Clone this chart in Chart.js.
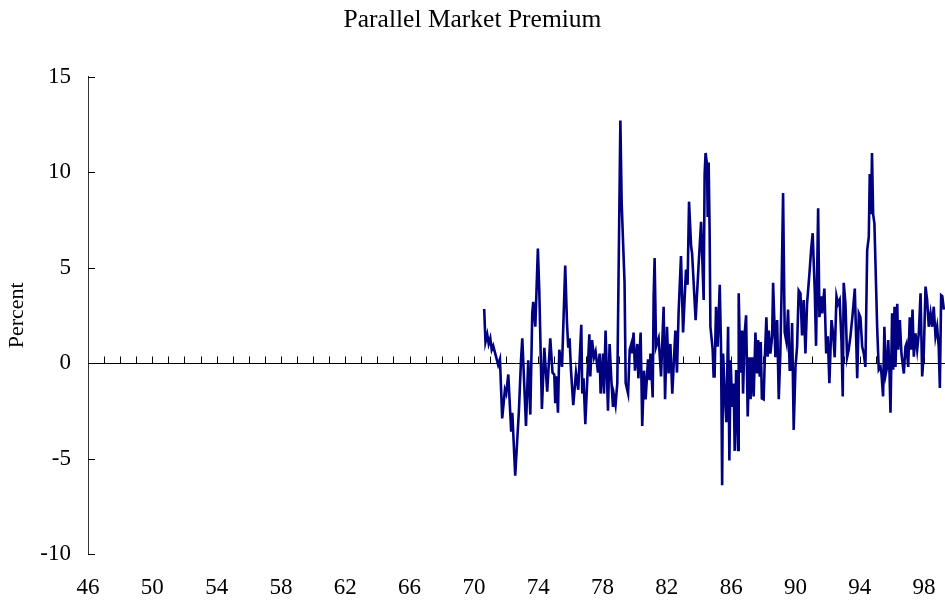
<!DOCTYPE html>
<html>
<head>
<meta charset="utf-8">
<title>Parallel Market Premium</title>
<script src="https://cdn.jsdelivr.net/npm/chart.js@4"></script>
<style>
    html, body { margin: 0; padding: 0; background: #fff; }
    #wrap { width: 945px; height: 601px; position: relative; }
</style>
</head>
<body>
<div id="wrap"><canvas id="premiumChart"></canvas></div>
<script>
// decimal years (46 = 1946)
const years = [
    70.64, 70.72, 70.83, 70.92, 71.02, 71.11, 71.20, 71.39, 71.51, 71.62,
    71.76, 71.93, 72.01, 72.14, 72.32, 72.39, 72.45, 72.57, 72.80, 72.93,
    73.01, 73.24, 73.38, 73.51, 73.63, 73.69, 73.82, 73.98, 74.07, 74.23,
    74.38, 74.56, 74.75, 74.89, 75.00, 75.06, 75.12, 75.23, 75.31, 75.48,
    75.68, 75.79, 75.87, 75.95, 76.04, 76.18, 76.35, 76.49, 76.68, 76.74,
    76.82, 76.93, 77.05, 77.18, 77.24, 77.35, 77.47, 77.57, 77.72, 77.82,
    77.88, 78.03, 78.09, 78.19, 78.34, 78.44, 78.55, 78.65, 78.71, 78.81,
    78.92, 79.11, 79.19, 79.37, 79.44, 79.59, 79.69, 79.79, 79.85, 79.93,
    80.02, 80.16, 80.23, 80.37, 80.47, 80.58, 80.68, 80.83, 80.93, 80.98,
    81.06, 81.12, 81.18, 81.24, 81.33, 81.49, 81.64, 81.80, 81.89, 82.01,
    82.11, 82.22, 82.34, 82.53, 82.63, 82.73, 82.88, 83.01, 83.19, 83.29,
    83.38, 83.51, 83.57, 83.79, 83.98, 84.13, 84.29, 84.35, 84.41, 84.50,
    84.54, 84.60, 84.66, 84.71, 84.85, 84.91, 84.97, 85.06, 85.16, 85.29,
    85.37, 85.44, 85.50, 85.60, 85.70, 85.81, 85.89, 85.97, 86.06, 86.16,
    86.22, 86.31, 86.43, 86.47, 86.57, 86.68, 86.74, 86.84, 86.93, 87.03,
    87.13, 87.21, 87.30, 87.40, 87.51, 87.61, 87.68, 87.78, 87.84, 87.91,
    88.02, 88.09, 88.19, 88.27, 88.34, 88.44, 88.55, 88.61, 88.71, 88.75,
    88.86, 88.96, 89.06, 89.13, 89.23, 89.33, 89.44, 89.54, 89.64, 89.73,
    89.79, 89.89, 90.00, 90.10, 90.20, 90.31, 90.41, 90.51, 90.62, 90.72,
    90.87, 90.97, 91.07, 91.20, 91.28, 91.41, 91.49, 91.60, 91.66, 91.80,
    91.91, 92.01, 92.11, 92.24, 92.34, 92.44, 92.55, 92.65, 92.75, 92.86,
    92.94, 93.00, 93.11, 93.21, 93.31, 93.42, 93.56, 93.69, 93.84, 93.94,
    94.04, 94.15, 94.25, 94.35, 94.46, 94.56, 94.62, 94.70, 94.76, 94.83,
    94.91, 95.08, 95.18, 95.29, 95.35, 95.45, 95.53, 95.62, 95.70, 95.77,
    95.85, 95.91, 96.01, 96.08, 96.16, 96.22, 96.33, 96.39, 96.49, 96.59,
    96.74, 96.84, 96.90, 97.01, 97.11, 97.20, 97.28, 97.36, 97.46, 97.57,
    97.67, 97.78, 97.88, 97.98, 98.09, 98.19, 98.29, 98.40, 98.50, 98.60,
    98.71, 98.81, 98.91, 98.98, 99.06, 99.13, 99.23
];

// premium in percent, same order as years
const premium = [
    2.83, 1.1, 1.5, 1.0, 1.3, 0.7, 0.9, 0.3, -0.1, 0.2,
    -2.9, -1.4, -1.6, -0.6, -3.6, -2.6, -3.7, -5.9, -2.5, 0.15,
    1.3, -3.3, 0.15, -2.7, 2.6, 3.2, 1.9, 6.0, 3.7, -2.4,
    0.8, -1.5, 1.3, -0.5, -0.6, -2.1, -0.7, -2.6, 0.7, -0.2,
    5.1, 2.1, 0.8, 1.3, -0.4, -2.2, -0.5, -1.4, 2.0, -1.6,
    -0.8, -3.2, -0.9, 1.5, -0.7, 1.2, 0.3, 0.6, -0.5, 0.5,
    -1.6, 0.5, -1.6, 1.7, -2.5, 1.0, -0.9, -2.3, -1.7, -2.2,
    -1.05, 12.7, 8.4, 4.2, -1.05, -1.6, 0.7, 1.0, 0.5, 1.6,
    -0.4, 1.0, -0.8, 1.6, -3.3, -0.4, -1.9, 0.2, -0.9, 0.5,
    -0.7, -1.8, 3.5, 5.5, 0.85, 1.3, -0.7, 2.95, -1.9, 1.9,
    -0.55, 1.0, -1.6, 1.7, -0.5, 2.6, 5.6, 1.6, 4.9, 4.1,
    8.45, 6.1, 5.75, 2.25, 5.2, 7.4, 3.3, 9.9, 11.0, 10.4,
    7.65, 10.5, 7.0, 1.9, 0.7, -0.7, -0.7, 2.95, 0.85, 4.1,
    0.85, -6.4, 0.5, -1.6, -3.1, 1.9, -5.1, 0.15, -2.3, -1.07,
    -4.6, -0.37, -4.55, 3.65, -0.5, 1.7, -1.6, 1.55, 2.5, -2.8,
    0.3, -1.9, 0.3, -1.75, 1.6, -0.55, 1.2, -0.72, 1.1, -1.85,
    -1.9, 0.15, 2.4, 0.33, 1.7, 0.5, 1.4, 4.2, 1.6, 0.3,
    2.25, -1.9, 0.5, 3.5, 8.9, 1.6, 1.1, 2.8, -0.35, -0.35,
    2.1, -3.5, -0.2, 0.85, 3.8, 3.65, 1.45, 3.3, 0.5, 3.1,
    4.7, 5.9, 6.8, 3.8, 0.9, 8.1, 2.4, 3.5, 2.6, 3.9,
    0.5, 1.4, -1.05, 2.25, 1.55, 0.3, 3.5, 3.1, 3.3, 1.2,
    -1.75, 4.2, 3.1, 0.3, 0.7, 1.4, 2.6, 3.9, -0.8, 2.6,
    2.4, 0.85, 0.5, -0.2, 5.9, 6.6, 9.9, 7.8, 11.0, 7.8,
    7.3, 1.9, -0.35, -0.2, -0.55, -1.75, 1.9, -0.55, -0.2, 1.2,
    -0.55, -2.6, 2.6, -0.35, 2.95, -0.2, 3.1, 0.7, 2.25, 0.5,
    -0.55, 0.85, 1.0, -0.2, 2.4, 0.7, 2.8, 0.33, 1.55, 0.7,
    1.55, 3.65, -0.7, 0.5, 4.0, 3.3, 1.9, 2.6, 1.9, 2.95,
    1.4, 1.9, 0.85, -1.3, 3.55, 3.5, 2.8
];

const xTickLabels = [46, 50, 54, 58, 62, 66, 70, 74, 78, 82, 86, 90, 94, 98];
const yTickValues = [-10, -5, 0, 5, 10, 15];

const X_MIN = 46;
const X_MAX = 99.3;

const serif = "'Liberation Serif', 'Times New Roman', serif";

// zero line with yearly tick marks pointing up, and inward ticks on the y axis
const axisMarks = {
    id: 'axisMarks',
    beforeDatasetsDraw(chart) {
        const { ctx, chartArea, scales } = chart;
        const x = scales.x;
        const y = scales.y;
        const zeroY = Math.round(y.getPixelForValue(0)) + 0.5;

        ctx.save();
        ctx.strokeStyle = '#000';
        ctx.lineWidth = 1;
        ctx.beginPath();
        ctx.moveTo(chartArea.left, zeroY);
        ctx.lineTo(chartArea.right, zeroY);
        for (let yr = X_MIN + 1; yr <= X_MAX; yr++) {
            const px = Math.round(x.getPixelForValue(yr)) + 0.5;
            ctx.moveTo(px, zeroY);
            ctx.lineTo(px, zeroY - 7);
        }
        yTickValues.forEach((v) => {
            const py = Math.round(y.getPixelForValue(v)) + 0.5;
            ctx.moveTo(chartArea.left, py);
            ctx.lineTo(chartArea.left + 7, py);
        });
        ctx.stroke();
        ctx.restore();
    }
};

const ctx = document.getElementById('premiumChart').getContext('2d');

new Chart(ctx, {
    type: 'line',
    data: {
        datasets: [{
            label: 'Parallel Market Premium',
            data: years.map((yr, i) => ({ x: yr, y: premium[i] })),
            borderColor: '#000080',
            borderWidth: 2.6,
            pointRadius: 0,
            tension: 0,
            fill: false
        }]
    },
    options: {
        responsive: true,
        maintainAspectRatio: false,
        animation: false,
        layout: { padding: { left: 0, right: 0, top: 0, bottom: 0 } },
        plugins: {
            legend: { display: false },
            tooltip: { enabled: false },
            title: {
                display: true,
                text: 'Parallel Market Premium',
                color: '#000',
                font: { family: serif, size: 25.5, weight: 'normal' },
                padding: { top: 5, bottom: 41 }
            }
        },
        scales: {
            x: {
                type: 'linear',
                min: X_MIN,
                max: X_MAX,
                afterBuildTicks: (scale) => {
                    scale.ticks = xTickLabels.map((v) => ({ value: v }));
                },
                afterFit: (scale) => {
                    scale.height = 47;
                    scale.paddingLeft = 0;
                    scale.paddingRight = 0;
                },
                grid: { display: false, drawTicks: false },
                border: { display: false },
                ticks: {
                    color: '#000',
                    padding: 20,
                    maxRotation: 0,
                    autoSkip: false,
                    font: { family: serif, size: 23 },
                    callback: (v) => String(v)
                }
            },
            y: {
                min: -10,
                max: 15,
                afterBuildTicks: (scale) => {
                    scale.ticks = yTickValues.map((v) => ({ value: v }));
                },
                afterFit: (scale) => { scale.width = 88; },
                grid: { drawOnChartArea: false, drawTicks: false },
                border: { display: true, color: '#333', width: 1 },
                ticks: {
                    color: '#000',
                    padding: 17,
                    font: { family: serif, size: 23 }
                },
                title: {
                    display: true,
                    text: 'Percent',
                    color: '#000',
                    font: { family: serif, size: 22 },
                    padding: { top: 4, bottom: 0 }
                }
            }
        }
    },
    plugins: [axisMarks]
});
</script>
</body>
</html>
